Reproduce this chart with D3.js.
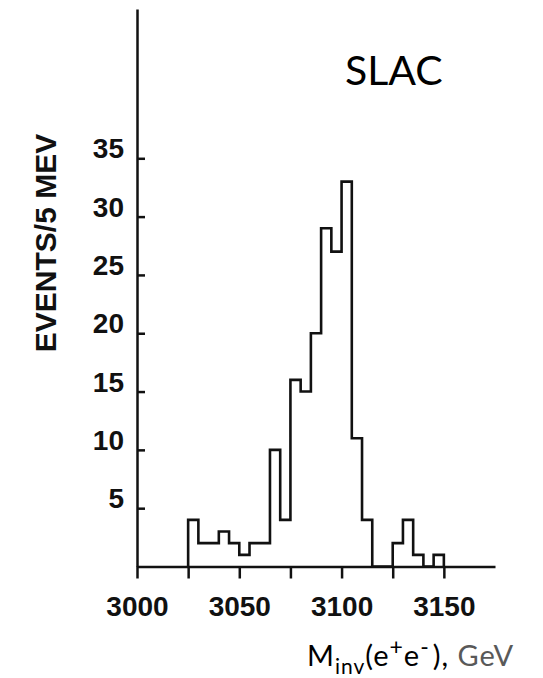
<!DOCTYPE html>
<html>
<head>
<meta charset="utf-8">
<script src="https://cdn.jsdelivr.net/npm/d3@7"></script>
<style>
  body { margin: 0; background: #fff; }
  svg { display: block; }
</style>
</head>
<body>
<svg id="chart" width="543" height="678"></svg>
<script>
// e+e- invariant mass histogram, 5 MeV bins
const binStarts = [3025, 3030, 3035, 3040, 3045, 3050, 3055, 3060, 3065, 3070,
  3075, 3080, 3085, 3090, 3095, 3100, 3105, 3110, 3115, 3120,
  3125, 3130, 3135, 3140, 3145];
const counts = [4, 2, 2, 3, 2, 1, 2, 2, 10, 4,
  16, 15, 20, 29, 27, 33, 11, 4, 0, 0,
  2, 4, 1, 0, 1];
const binWidth = 5;

const xTicks = [3000, 3025, 3050, 3075, 3100, 3125, 3150];
const xLabels = [3000, 3050, 3100, 3150];
const yTicks = [5, 10, 15, 20, 25, 30, 35];

const ink = "#111";
const svg = d3.select("#chart");

const x = d3.scaleLinear().domain([3000, 3175]).range([137, 495]);
const y = d3.scaleLinear().domain([0, 47.8]).range([566.5, 9]);

// x axis, ticks hanging below the line
const xAxis = svg
  .append("g")
  .attr("transform", "translate(0," + y(0) + ")")
  .call(
    d3
      .axisBottom(x)
      .tickValues(xTicks)
      .tickSize(12)
      .tickSizeOuter(0)
      .tickPadding(18)
      .tickFormat((d) => (xLabels.includes(d) ? d : ""))
  );

// y axis, ticks pointing inward
const yAxis = svg
  .append("g")
  .attr("transform", "translate(" + x(3000) + ",0)")
  .call(
    d3
      .axisLeft(y)
      .tickValues(yTicks)
      .tickSize(-8)
      .tickSizeOuter(0)
      .tickPadding(13)
  );

[xAxis, yAxis].forEach((g) => {
  g.select(".domain").attr("stroke", ink).attr("stroke-width", 2.5);
  g.selectAll(".tick line").attr("stroke", ink).attr("stroke-width", 2.5);
  g.selectAll(".tick text")
    .attr("fill", ink)
    .style("font-family", "'Liberation Sans', Arial, sans-serif")
    .style("font-weight", "bold")
    .style("font-size", "28px");
});
yAxis.selectAll(".tick text").attr("dy", "-0.02em");

// histogram outline as a step line
const pts = [[binStarts[0], 0]];
binStarts.forEach((b, i) => pts.push([b, counts[i]]));
pts.push([binStarts[binStarts.length - 1] + binWidth, 0]);

svg
  .append("path")
  .datum(pts)
  .attr("fill", "none")
  .attr("stroke", ink)
  .attr("stroke-width", 2.6)
  .attr("stroke-linejoin", "miter")
  .attr(
    "d",
    d3
      .line()
      .x((d) => x(d[0]))
      .y((d) => y(d[1]))
      .curve(d3.curveStepAfter)
  );

// y axis title
svg
  .append("text")
  .attr("transform", "translate(56,243) rotate(-90)")
  .attr("text-anchor", "middle")
  .attr("fill", ink)
  .style("font-family", "'Liberation Sans', Arial, sans-serif")
  .style("font-weight", "bold")
  .style("font-size", "30px")
  .text("EVENTS/5 MEV");

// lab name
svg
  .append("text")
  .attr("x", 345)
  .attr("y", 85)
  .attr("fill", "#000")
  .style("font-family", "Lato, sans-serif")
  .style("font-size", "41px")
  .text("SLAC");

// x axis title
const xt = svg
  .append("text")
  .attr("x", 307)
  .attr("y", 666)
  .attr("fill", "#000")
  .style("font-family", "Lato, sans-serif")
  .style("font-size", "29px")
  .style("letter-spacing", "1px");
xt.append("tspan").text("M");
xt.append("tspan").attr("dy", 8).style("font-size", "21px").text("inv");
xt.append("tspan").attr("dy", -8).text("(e");
xt.append("tspan").attr("dy", -11).style("font-size", "23px").text("+");
xt.append("tspan").attr("dy", 11).text("e");
xt.append("tspan").attr("dy", -11).style("font-size", "23px").text("-");
xt.append("tspan").attr("dx", 3).attr("dy", 11).text("), ");
xt.append("tspan").attr("fill", "#595959").text("GeV");
</script>
</body>
</html>
